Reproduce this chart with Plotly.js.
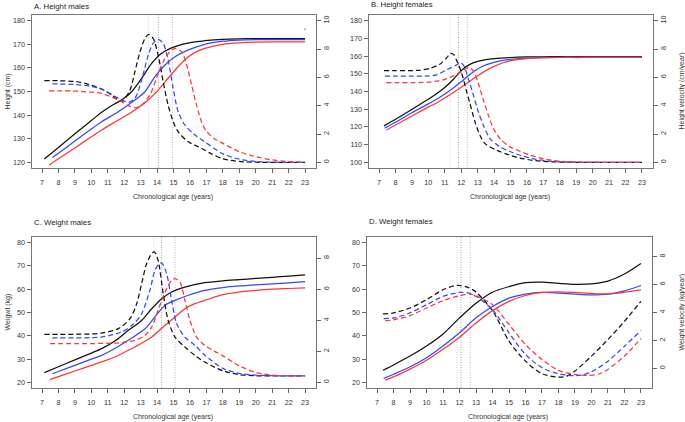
<!DOCTYPE html>
<html>
<head>
<meta charset="utf-8">
<script src="https://cdn.plot.ly/plotly-3.0.1.min.js"></script>
<style>html,body{margin:0;padding:0;background:#fff;}#chart{width:685px;height:422px;}</style>
</head>
<body>
<div id="chart"></div>
<script>
// ---------- Panel A: Height males ----------
const hmDistAgeK = [7.14, 8, 9, 10, 10.63, 11.1, 11.64, 12, 12.45, 13.06, 13.67, 14.28, 15.09, 16.1, 16.9, 18, 19, 20, 21, 22, 23];
const hmDistK    = [121.4, 126.3, 132.1, 137.7, 141.2, 143.4, 145.6, 147.2, 149.9, 155.6, 161.9, 166.2, 169.0, 170.8, 171.5, 172.1, 172.3, 172.4, 172.4, 172.4, 172.4];
const hmDistAgeB = [7.63, 8, 9, 10, 10.63, 11.64, 12.65, 13.26, 13.87, 14.48, 15.09, 15.9, 16.9, 18, 19, 20, 21, 22, 23];
const hmDistB    = [122.0, 123.9, 129.0, 134.1, 137.2, 141.4, 146.4, 149.9, 156.3, 161.2, 164.7, 167.6, 170.0, 171.3, 171.8, 172.0, 172.0, 172.0, 172.0];
const hmDistAgeR = [7.43, 8, 9, 10, 10.63, 11.64, 12.65, 13.46, 14.06, 14.67, 15.28, 15.9, 16.5, 16.9, 18, 19, 20, 21, 22, 23];
const hmDistR    = [118.9, 121.5, 126.1, 130.8, 133.7, 137.9, 142.2, 146.4, 150.6, 155.6, 160.5, 164.7, 167.2, 168.3, 170.0, 170.6, 170.9, 171.0, 171.0, 171.0];
const hmVelAgeK = [7.14, 8, 9, 9.62, 10.63, 11.24, 11.85, 12.35, 12.65, 12.96, 13.26, 13.5, 13.76, 14.06, 14.37, 14.67, 14.98, 15.28, 15.9, 16.7, 17.3, 18, 19, 20, 21, 22, 23];
const hmVelK    = [5.76, 5.76, 5.7, 5.57, 5.17, 4.75, 4.3, 5.1, 6.4, 7.8, 8.75, 9.03, 8.75, 7.57, 5.69, 4.04, 2.87, 2.16, 1.45, 0.99, 0.6, 0.25, 0.06, 0.01, 0, 0, 0];
const hmVelAgeB = [7.63, 8, 9, 10, 10.63, 11.64, 12.25, 12.65, 13.06, 13.46, 13.76, 14.06, 14.37, 14.67, 14.98, 15.28, 15.69, 16.3, 16.9, 18, 19, 20, 21, 22, 23];
const hmVelB    = [5.53, 5.53, 5.5, 5.35, 5.17, 4.52, 4.23, 4.52, 5.81, 7.57, 8.4, 8.68, 8.4, 7.22, 5.22, 3.57, 2.63, 1.93, 1.45, 0.6, 0.22, 0.06, 0.01, 0, 0];
const hmVelAgeR = [7.43, 8, 9, 10, 10.63, 11.64, 12.25, 12.65, 13.06, 13.56, 13.96, 14.37, 14.77, 15.09, 15.49, 15.8, 16.1, 16.4, 16.7, 17, 17.5, 18, 19, 20, 21, 22, 23];
const hmVelR    = [5.05, 5.05, 5.03, 4.95, 4.87, 4.4, 4.0, 3.85, 4.04, 4.75, 5.93, 7.1, 7.8, 8.04, 7.8, 6.87, 5.45, 4.04, 2.87, 2.2, 1.65, 1.34, 0.75, 0.4, 0.17, 0.05, 0.01];
const hmPHV = [13.47, 14.08, 14.93];
const hmStrayAge = [23];
const hmStrayVal = [9.4];

// ---------- Panel B: Height females ----------
const hfDistAgeK = [7.3, 8, 9, 10, 10.5, 11, 11.5, 12, 12.5, 13, 13.5, 14, 15, 16, 17, 18, 19, 20, 21, 22, 23];
const hfDistK    = [120.6, 124.3, 129.9, 135.6, 138.7, 142.2, 146.6, 151.8, 155.2, 157.0, 158.0, 158.6, 159.2, 159.5, 159.6, 159.7, 159.7, 159.7, 159.7, 159.7, 159.7];
const hfDistAgeB = [7.35, 8, 9, 10, 10.5, 11, 11.5, 12, 12.5, 13, 13.5, 14, 15, 16, 17, 18, 19, 20, 21, 22, 23];
const hfDistB    = [119.3, 122.6, 128.0, 133.0, 135.6, 138.6, 141.9, 145.5, 149.5, 152.7, 155.0, 156.5, 158.2, 158.9, 159.2, 159.3, 159.4, 159.4, 159.4, 159.4, 159.4];
const hfDistAgeR = [7.45, 8, 9, 10, 10.5, 11, 11.5, 12, 12.5, 13, 13.5, 14, 14.5, 15, 16, 17, 18, 19, 20, 21, 22, 23];
const hfDistR    = [118.3, 121.1, 126.2, 131.2, 133.5, 136.3, 139.3, 142.4, 145.7, 148.9, 151.8, 154.2, 156.1, 157.4, 158.6, 159.0, 159.2, 159.2, 159.3, 159.3, 159.3, 159.3];
const hfVelAgeK = [7.3, 8, 9, 9.5, 10.1, 10.7, 11.1, 11.35, 11.55, 11.76, 12.03, 12.33, 12.53, 12.84, 13.14, 13.45, 14.16, 14.97, 15.58, 16.5, 17.5, 18.5, 20, 23];
const hfVelK    = [6.48, 6.48, 6.48, 6.5, 6.64, 6.93, 7.35, 7.68, 7.59, 7.1, 6.29, 4.99, 4.16, 2.86, 1.91, 1.32, 0.85, 0.5, 0.3, 0.12, 0.04, 0.01, 0, 0];
const hfVelAgeB = [7.35, 8, 9, 10, 10.5, 11.1, 11.72, 11.93, 12.13, 12.43, 12.74, 13.04, 13.35, 13.75, 14.36, 15.0, 15.58, 16.5, 17.5, 18.5, 20, 23];
const hfVelB    = [6.08, 6.08, 6.08, 6.1, 6.17, 6.52, 6.88, 7.04, 6.88, 5.93, 4.75, 3.57, 2.62, 1.68, 1.09, 0.75, 0.5, 0.22, 0.07, 0.02, 0, 0];
const hfVelAgeR = [7.45, 8, 9, 10, 10.9, 11.52, 12.03, 12.33, 12.5, 12.77, 13.04, 13.35, 13.65, 13.96, 14.36, 14.97, 15.58, 16.5, 17.5, 18.5, 20, 23];
const hfVelR    = [5.63, 5.63, 5.63, 5.66, 5.82, 6.1, 6.41, 6.64, 6.69, 6.41, 5.58, 4.4, 3.33, 2.39, 1.68, 1.09, 0.78, 0.4, 0.15, 0.05, 0.01, 0];
const hfPHV = [11.32, 11.83, 12.37];

// ---------- Panel C: Weight males ----------
const wmDistAgeK = [7.14, 8, 9, 10, 10.63, 11.5, 12.25, 13.06, 13.67, 14.28, 14.88, 15.69, 16.9, 18, 19, 20, 21, 22, 23];
const wmDistK    = [24.2, 26.7, 29.7, 32.6, 34.5, 38.1, 42.4, 46.6, 51.6, 55.9, 58.8, 60.9, 62.8, 63.6, 64.1, 64.6, 65.1, 65.6, 66.1];
const wmDistAgeB = [7.63, 8, 9, 10, 10.63, 11.5, 12.25, 13.26, 13.87, 14.48, 15.09, 15.9, 16.9, 18, 19, 20, 21, 22, 23];
const wmDistB    = [23.7, 24.7, 27.3, 30.0, 31.6, 34.9, 38.1, 43.0, 48.1, 53.1, 55.2, 57.4, 59.5, 60.7, 61.4, 61.9, 62.3, 62.7, 63.2];
const wmDistAgeR = [7.49, 8, 9, 10, 10.63, 11.5, 12.25, 13, 13.67, 14.48, 15.09, 15.69, 16.3, 16.9, 18, 19, 20, 21, 22, 23];
const wmDistR    = [21.3, 22.5, 24.9, 27.3, 28.8, 31.1, 33.8, 36.6, 39.5, 44.5, 48.1, 51.6, 53.8, 55.2, 57.7, 58.8, 59.5, 60.0, 60.3, 60.6];
const wmVelAgeK = [7.14, 8, 9, 10, 10.63, 11.64, 12.35, 12.76, 13.06, 13.36, 13.67, 13.83, 14.06, 14.37, 14.67, 15.09, 15.69, 16.3, 16.9, 18, 19, 20, 21, 22, 23];
const wmVelK    = [3.1, 3.1, 3.1, 3.12, 3.18, 3.46, 4.1, 5.07, 6.36, 7.64, 8.29, 8.4, 7.86, 5.71, 4.0, 2.92, 2.28, 1.74, 1.31, 0.75, 0.5, 0.43, 0.42, 0.42, 0.42];
const wmVelAgeB = [7.63, 8, 9, 10, 10.63, 11.84, 12.55, 13.06, 13.56, 13.87, 14.12, 14.28, 14.58, 14.88, 15.19, 15.69, 16.3, 16.9, 18, 19, 20, 21, 22, 23];
const wmVelB    = [2.86, 2.86, 2.86, 2.88, 2.92, 3.25, 3.74, 4.42, 5.93, 7.22, 7.64, 7.69, 7.0, 5.29, 3.78, 2.92, 2.39, 1.75, 0.9, 0.58, 0.47, 0.43, 0.42, 0.42];
const wmVelAgeR = [7.49, 8, 9, 10, 11, 11.64, 12.65, 13.26, 13.67, 14.06, 14.48, 14.88, 15.09, 15.39, 15.69, 16.0, 16.4, 16.9, 17.5, 18, 19, 20, 21, 22, 23];
const wmVelR    = [2.49, 2.49, 2.49, 2.5, 2.52, 2.54, 2.71, 3.03, 3.57, 4.64, 5.82, 6.57, 6.68, 6.46, 5.29, 4.0, 2.92, 2.39, 2.0, 1.71, 1.07, 0.64, 0.47, 0.43, 0.42];
const wmPHV = [13.8, 14.27, 15.09];

// ---------- Panel D: Weight females ----------
const wfDistAgeK = [7.36, 8, 9, 10, 11, 12, 13, 14, 15, 16, 17, 18, 19, 20, 21, 22, 23];
const wfDistK    = [25.2, 27.5, 31.3, 35.6, 40.8, 47.7, 54.0, 58.7, 61.1, 62.8, 63.0, 62.5, 62.1, 62.3, 63.5, 66.5, 71.0];
const wfDistAgeB = [7.4, 8, 9, 10, 11, 12, 13, 14, 15, 16, 17, 18, 19, 20, 21, 22, 23];
const wfDistB    = [21.7, 23.5, 26.7, 30.6, 35.6, 41.3, 47.7, 52.6, 56.2, 57.9, 58.6, 58.3, 57.9, 57.6, 57.9, 59.3, 61.6];
const wfDistAgeR = [7.5, 8, 9, 10, 11, 12, 13, 14, 15, 16, 17, 18, 19, 20, 21, 22, 23];
const wfDistR    = [21.0, 22.4, 25.7, 29.5, 34.2, 39.4, 45.5, 50.8, 54.8, 57.3, 58.6, 58.9, 58.6, 58.2, 58.0, 58.7, 59.7];
const wfVelAgeK = [7.36, 8, 9, 10, 11, 11.85, 12.5, 13, 14, 15, 16, 17, 18, 18.5, 19, 20, 21, 22, 23];
const wfVelK    = [3.9, 3.97, 4.32, 4.92, 5.63, 5.94, 5.8, 5.46, 4.13, 1.95, 0.52, -0.38, -0.62, -0.55, -0.19, 0.88, 2.07, 3.37, 4.8];
const wfVelAgeB = [7.4, 8, 9, 10, 11, 12, 12.5, 13, 14, 15, 16, 17, 18, 18.5, 19, 19.5, 20, 21, 22, 23];
const wfVelB    = [3.56, 3.61, 3.97, 4.56, 5.15, 5.44, 5.4, 5.15, 4.2, 2.54, 1.0, 0.05, -0.38, -0.48, -0.52, -0.45, -0.25, 0.52, 1.59, 2.71];
const wfVelAgeR = [7.5, 8, 9, 10, 11, 12, 12.65, 13, 14, 15, 16, 17, 18, 19, 19.8, 20.5, 21, 22, 23];
const wfVelR    = [3.42, 3.47, 3.78, 4.32, 4.85, 5.2, 5.32, 5.2, 4.56, 3.14, 1.71, 0.64, -0.14, -0.43, -0.5, -0.38, -0.07, 0.88, 2.14];
const wfPHV = [11.85, 12.09, 12.65];

// ---------- Labels ----------
const panelTitles = ['A. Height males', 'B. Height females', 'C. Weight males', 'D. Weight females'];
const xTitle = 'Chronological age (years)';
const leftTitles = ['Height (cm)', '', 'Weigwt (kg)', ''];
const rightTitles = ['', 'Height velocity (cm/year)', '', 'Weight velocity (kg/year)'];
const ageTicks = [7, 8, 9, 10, 11, 12, 13, 14, 15, 16, 17, 18, 19, 20, 21, 22, 23];
const heightTicksM = [120, 130, 140, 150, 160, 170, 180];
const heightTicksF = [100, 110, 120, 130, 140, 150, 160, 170, 180];
const weightTicks = [20, 30, 40, 50, 60, 70, 80];
const hVelTicks = [0, 2, 4, 6, 8, 10];
const wVelTicks = [0, 2, 4, 6, 8];

// ---------- Build ----------
const W = 685, H = 422;
const colK = '#111111', colB = '#3448ff', colR = '#ff3636';
const phvColors = ['#c4c4c4', '#8c8c8c', '#a8a8a8'];

const panels = [
  {x: [31.5, 315.6], y: [15, 168], yl: [117.6, 182.4], ylt: heightTicksM, yr: [-0.4, 10.4], yrt: hVelTicks,
   dist: [[hmDistAgeK, hmDistK, colK], [hmDistAgeB, hmDistB, colB], [hmDistAgeR, hmDistR, colR]],
   vel: [[hmVelAgeK, hmVelK, colK], [hmVelAgeB, hmVelB, colB], [hmVelAgeR, hmVelR, colR]], phv: hmPHV},
  {x: [368.5, 652.5], y: [15, 168], yl: [96.8, 183.2], ylt: heightTicksF, yr: [-0.4, 10.4], yrt: hVelTicks,
   dist: [[hfDistAgeK, hfDistK, colK], [hfDistAgeB, hfDistB, colB], [hfDistAgeR, hfDistR, colR]],
   vel: [[hfVelAgeK, hfVelK, colK], [hfVelAgeB, hfVelB, colB], [hfVelAgeR, hfVelR, colR]], phv: hfPHV},
  {x: [31.5, 315.6], y: [237, 388], yl: [17.6, 82.4], ylt: weightTicks, yr: [-0.36, 9.36], yrt: wVelTicks,
   dist: [[wmDistAgeK, wmDistK, colK], [wmDistAgeB, wmDistB, colB], [wmDistAgeR, wmDistR, colR]],
   vel: [[wmVelAgeK, wmVelK, colK], [wmVelAgeB, wmVelB, colB], [wmVelAgeR, wmVelR, colR]], phv: wmPHV},
  {x: [366.5, 651.5], y: [237, 388], yl: [17.6, 82.4], ylt: weightTicks, yr: [-1.4, 9.4], yrt: wVelTicks,
   dist: [[wfDistAgeK, wfDistK, colK], [wfDistAgeB, wfDistB, colB], [wfDistAgeR, wfDistR, colR]],
   vel: [[wfVelAgeK, wfVelK, colK], [wfVelAgeB, wfVelB, colB], [wfVelAgeR, wfVelR, colR]], phv: wfPHV}
];

const titlePos = [[32, 6], [369, 5], [32, 222], [367, 221]];
const xTitlePos = [[173, 197], [510, 197], [173, 417], [508, 417]];
const leftTitleX = 7, rightTitleX = 681;

const font = {family: 'Liberation Sans, Arial, sans-serif', size: 7, color: '#333'};
const layout = {
  width: W, height: H, margin: {l: 0, r: 0, t: 0, b: 0},
  paper_bgcolor: '#fff', plot_bgcolor: '#fff', showlegend: false,
  font: font, shapes: [], annotations: []
};
const traces = [];

panels.forEach((p, i) => {
  const n = i + 1;
  const xa = 'xaxis' + (n === 1 ? '' : n), ya = 'yaxis' + (n === 1 ? '' : n), yr = 'yaxis' + (n + 4);
  const xid = 'x' + (n === 1 ? '' : n), yid = 'y' + (n === 1 ? '' : n), yrid = 'y' + (n + 4);
  const yDom = [1 - p.y[1] / H, 1 - p.y[0] / H];
  layout[xa] = {
    domain: [p.x[0] / W, p.x[1] / W], range: [6.36, 23.64], anchor: yid,
    tickmode: 'array', tickvals: ageTicks, ticktext: ageTicks.map(String),
    ticks: 'outside', ticklen: 4, tickcolor: '#666', tickwidth: 1, ticklabelstandoff: 3,
    showline: true, mirror: true, linecolor: '#777', linewidth: 1,
    showgrid: false, zeroline: false, tickfont: {size: 7.2, color: '#333'}, fixedrange: true
  };
  layout[ya] = {
    domain: yDom, range: p.yl, anchor: xid,
    tickmode: 'array', tickvals: p.ylt, ticktext: p.ylt.map(String),
    ticks: 'outside', ticklen: 4, tickcolor: '#666', tickwidth: 1,
    showline: true, mirror: true, linecolor: '#777', linewidth: 1,
    showgrid: false, zeroline: false, tickfont: {size: 7.2, color: '#333'}, fixedrange: true
  };
  layout[yr] = {
    domain: yDom, range: p.yr, anchor: xid, overlaying: yid, side: 'right',
    tickmode: 'array', tickvals: p.yrt, ticktext: p.yrt.map(String), tickangle: -90,
    ticks: 'outside', ticklen: 4, tickcolor: '#666', tickwidth: 1,
    showline: false, showgrid: false, zeroline: false, tickfont: {size: 7.2, color: '#333'}, fixedrange: true
  };
  // PHV dotted vertical lines
  p.phv.forEach((a, k) => {
    layout.shapes.push({type: 'line', xref: xid, yref: yid + ' domain', x0: a, x1: a, y0: 0, y1: 1,
      line: {color: phvColors[k], width: 0.8, dash: '1px,1.5px'}, layer: 'below'});
  });
  p.dist.forEach(d => traces.push({x: d[0], y: d[1], xaxis: xid, yaxis: yid, type: 'scatter', mode: 'lines',
    line: {color: d[2], width: 1.25, shape: 'spline', smoothing: 0.8}, hoverinfo: 'skip'}));
  p.vel.forEach(d => traces.push({x: d[0], y: d[1], xaxis: xid, yaxis: yrid, type: 'scatter', mode: 'lines',
    line: {color: d[2], width: 1.25, dash: '5px,3px', shape: 'spline', smoothing: 0.8}, hoverinfo: 'skip'}));
  // Texts
  layout.annotations.push({text: panelTitles[i], xref: 'paper', yref: 'paper', x: titlePos[i][0] / W, y: 1 - titlePos[i][1] / H,
    xanchor: 'left', yanchor: 'middle', showarrow: false, font: {size: 7.8, color: '#222'}});
  layout.annotations.push({text: xTitle, xref: 'paper', yref: 'paper', x: xTitlePos[i][0] / W, y: 1 - xTitlePos[i][1] / H,
    xanchor: 'center', yanchor: 'middle', showarrow: false, font: {size: 7, color: '#333'}});
  const yc = 1 - (p.y[0] + p.y[1]) / 2 / H;
  if (leftTitles[i]) layout.annotations.push({text: leftTitles[i], xref: 'paper', yref: 'paper', x: leftTitleX / W, y: yc,
    xanchor: 'center', yanchor: 'middle', textangle: -90, showarrow: false, font: {size: 7, color: '#333'}});
  if (rightTitles[i]) layout.annotations.push({text: rightTitles[i], xref: 'paper', yref: 'paper', x: rightTitleX / W, y: yc,
    xanchor: 'center', yanchor: 'middle', textangle: -90, showarrow: false, font: {size: 7, color: '#333'}});
});

// stray point in panel A
traces.push({x: hmStrayAge, y: hmStrayVal, xaxis: 'x', yaxis: 'y5', type: 'scatter', mode: 'markers',
  marker: {color: '#aaa', size: 2}, hoverinfo: 'skip'});

Plotly.newPlot('chart', traces, layout, {staticPlot: true, displayModeBar: false});
</script>
</body>
</html>
